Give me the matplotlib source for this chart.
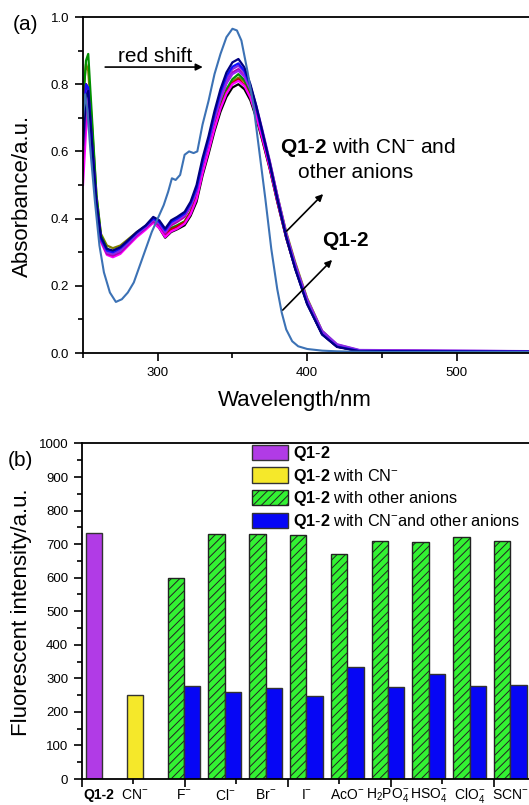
import numpy as np
import matplotlib
matplotlib.use("Agg")
import matplotlib.pyplot as plt
from matplotlib.transforms import blended_transform_factory

plt.rcParams['font.family'] = ['Liberation Sans', 'DejaVu Sans']
plt.rcParams['mathtext.fontset'] = 'custom'
plt.rcParams['mathtext.rm'] = 'Liberation Sans'
plt.rcParams['mathtext.it'] = 'Liberation Sans'
plt.rcParams['mathtext.bf'] = 'Liberation Sans:bold'
plt.rcParams['hatch.linewidth'] = 0.7

# ---------------- Panel (a) data: absorption spectra ----------------
wl_q12 = [250, 251.5, 253, 255, 258, 261, 264, 268, 272, 276, 280, 284, 288, 292, 296,
          300, 304, 307, 309.5, 312, 315, 318, 321, 324, 326.5, 330, 334, 338, 342, 346,
          350, 353, 356, 360, 364, 368, 372, 376, 380, 383, 386, 390, 394, 400, 410, 420,
          430, 450, 500, 550, 600]
abs_q12 = [0.70, 0.77, 0.72, 0.60, 0.45, 0.32, 0.24, 0.18, 0.152, 0.16, 0.18, 0.21, 0.26,
           0.31, 0.36, 0.40, 0.44, 0.48, 0.52, 0.515, 0.53, 0.59, 0.60, 0.595, 0.60, 0.68,
           0.75, 0.83, 0.89, 0.94, 0.965, 0.96, 0.93, 0.84, 0.74, 0.60, 0.46, 0.31, 0.19,
           0.12, 0.07, 0.035, 0.02, 0.012, 0.007, 0.005, 0.004, 0.003, 0.003, 0.003, 0.003]

wl_mix = [250, 252, 253.5, 256, 259, 262, 266, 270, 275, 280, 286, 292, 297, 301, 305, 309,
          313, 318, 322, 326, 330, 334, 338, 342, 346, 350, 354, 358, 362, 366, 370, 375,
          380, 386, 392, 400, 410, 420, 435, 600]
abs_navy = [0.62, 0.76, 0.78, 0.63, 0.45, 0.345, 0.31, 0.305, 0.315, 0.335, 0.36, 0.38, 0.405,
            0.395, 0.37, 0.395, 0.405, 0.42, 0.45, 0.50, 0.58, 0.645, 0.72, 0.785, 0.835,
            0.865, 0.875, 0.85, 0.80, 0.735, 0.66, 0.565, 0.46, 0.345, 0.25, 0.145, 0.055,
            0.018, 0.005, 0.003]
abs_blue = [0.66, 0.80, 0.79, 0.62, 0.445, 0.34, 0.305, 0.30, 0.312, 0.332, 0.358, 0.378, 0.40,
            0.39, 0.365, 0.39, 0.40, 0.415, 0.445, 0.49, 0.57, 0.635, 0.71, 0.775, 0.825,
            0.852, 0.862, 0.84, 0.795, 0.73, 0.655, 0.56, 0.458, 0.345, 0.252, 0.147, 0.056,
            0.019, 0.006, 0.003]
abs_violet = [0.60, 0.74, 0.77, 0.62, 0.445, 0.34, 0.30, 0.295, 0.305, 0.328, 0.355, 0.378,
              0.40, 0.392, 0.365, 0.392, 0.40, 0.415, 0.44, 0.485, 0.565, 0.63, 0.70, 0.765,
              0.815, 0.845, 0.855, 0.835, 0.795, 0.735, 0.665, 0.572, 0.47, 0.355, 0.265,
              0.16, 0.066, 0.026, 0.009, 0.004]
abs_dmag = [0.58, 0.72, 0.76, 0.61, 0.44, 0.335, 0.295, 0.29, 0.30, 0.322, 0.35, 0.372, 0.392,
            0.38, 0.355, 0.38, 0.39, 0.405, 0.435, 0.48, 0.56, 0.625, 0.695, 0.755, 0.805,
            0.835, 0.845, 0.825, 0.785, 0.725, 0.655, 0.565, 0.465, 0.35, 0.258, 0.153, 0.06,
            0.021, 0.007, 0.003]
abs_green = [0.74, 0.87, 0.89, 0.70, 0.47, 0.35, 0.31, 0.30, 0.31, 0.33, 0.355, 0.375, 0.395,
             0.38, 0.355, 0.372, 0.38, 0.392, 0.42, 0.465, 0.545, 0.61, 0.68, 0.74, 0.785,
             0.815, 0.83, 0.812, 0.775, 0.715, 0.648, 0.558, 0.458, 0.347, 0.257, 0.151,
             0.058, 0.02, 0.006, 0.003]
abs_olive = [0.76, 0.86, 0.84, 0.68, 0.47, 0.355, 0.32, 0.312, 0.32, 0.338, 0.36, 0.378, 0.395,
             0.378, 0.352, 0.37, 0.378, 0.39, 0.418, 0.462, 0.54, 0.605, 0.675, 0.735, 0.78,
             0.808, 0.82, 0.808, 0.775, 0.72, 0.655, 0.568, 0.47, 0.36, 0.27, 0.163, 0.066,
             0.024, 0.007, 0.003]
abs_red = [0.68, 0.80, 0.78, 0.62, 0.44, 0.34, 0.30, 0.295, 0.305, 0.325, 0.35, 0.37, 0.39,
           0.375, 0.35, 0.368, 0.376, 0.39, 0.418, 0.462, 0.54, 0.605, 0.672, 0.73, 0.775,
           0.803, 0.815, 0.798, 0.762, 0.705, 0.638, 0.55, 0.452, 0.343, 0.253, 0.149, 0.057,
           0.019, 0.006, 0.003]
abs_magenta = [0.50, 0.66, 0.72, 0.60, 0.435, 0.33, 0.292, 0.285, 0.295, 0.318, 0.345, 0.367,
               0.388, 0.372, 0.345, 0.362, 0.37, 0.385, 0.413, 0.458, 0.535, 0.60, 0.668,
               0.727, 0.772, 0.80, 0.81, 0.795, 0.76, 0.705, 0.64, 0.552, 0.455, 0.345, 0.255,
               0.15, 0.058, 0.02, 0.006, 0.003]
abs_black = [0.66, 0.80, 0.78, 0.62, 0.44, 0.338, 0.302, 0.296, 0.305, 0.325, 0.35, 0.37, 0.39,
             0.372, 0.343, 0.36, 0.368, 0.38, 0.408, 0.45, 0.528, 0.592, 0.66, 0.718, 0.762,
             0.79, 0.80, 0.785, 0.752, 0.698, 0.633, 0.547, 0.45, 0.342, 0.252, 0.148, 0.056,
             0.019, 0.006, 0.003]
abs_purple = [0.64, 0.78, 0.78, 0.62, 0.445, 0.34, 0.30, 0.295, 0.305, 0.326, 0.353, 0.375,
              0.397, 0.386, 0.36, 0.385, 0.395, 0.41, 0.438, 0.482, 0.56, 0.625, 0.695, 0.755,
              0.802, 0.83, 0.84, 0.822, 0.785, 0.728, 0.66, 0.568, 0.468, 0.355, 0.263, 0.158,
              0.064, 0.025, 0.008, 0.004]

mix_curves = [abs_olive, abs_green, abs_black, abs_red, abs_magenta, abs_dmag,
              abs_purple, abs_violet, abs_blue, abs_navy]
mix_colors = ['#808000', '#009000', '#000000', '#c00000', '#ff00ff', '#b000b0',
              '#a020f0', '#8a2be2', '#1010ff', '#000080']

# ---------------- Panel (b) data: fluorescence ----------------
cat_labels = ['Q1-2', 'CN$^{-}$', 'F$^{-}$', 'Cl$^{-}$', 'Br$^{-}$', 'I$^{-}$', 'AcO$^{-}$',
              'H$_2$PO$_4^{-}$', 'HSO$_4^{-}$', 'ClO$_4^{-}$', 'SCN$^{-}$']
val_q12 = [733]
val_cn = [251]
val_other = [598, 730, 730, 727, 670, 710, 706, 721, 709]
val_cn_other = [276, 260, 271, 246, 335, 275, 313, 276, 281]

W, H = 529, 805
fig = plt.figure(figsize=(W / 100, H / 100), dpi=100)

def fx(px):
    return px / W

def fy(py):
    return 1 - py / H

# ---------------- Panel (a) ----------------
ax1 = fig.add_axes([fx(83), fy(353), fx(606) - fx(83), fy(17) - fy(353)])
for c, col in zip(mix_curves, mix_colors):
    ax1.plot(wl_mix, c, color=col, lw=1.6)
ax1.plot(wl_q12, abs_q12, color='#3c72b5', lw=1.5)
ax1.set_xlim(250, 600)
ax1.set_ylim(0, 1.0)
ax1.set_xticks([300, 400, 500])
ax1.set_xticks([250, 350, 450, 550], minor=True)
ax1.set_yticks(np.arange(0, 1.01, 0.2))
ax1.set_yticks(np.arange(0.1, 1.0, 0.2), minor=True)
ax1.yaxis.set_major_formatter(matplotlib.ticker.FormatStrFormatter('%.1f'))
ax1.tick_params(which='major', direction='out', length=6, width=1.2, labelsize=9.5, pad=4)
ax1.tick_params(which='minor', direction='out', length=3.5, width=1.2)
for s in ax1.spines.values():
    s.set_linewidth(1.3)

ax1.annotate('', xy=(332, 0.851), xytext=(263, 0.851),
             arrowprops=dict(arrowstyle='-|>', color='k', lw=1.2, mutation_scale=10))
ax1.text(273.5, 0.883, 'red shift', fontsize=15, va='center', ha='left')
ax1.annotate('', xy=(412, 0.479), xytext=(385, 0.357),
             arrowprops=dict(arrowstyle='-|>', color='k', lw=1.2, mutation_scale=10))
ax1.annotate('', xy=(418, 0.283), xytext=(382.4, 0.122),
             arrowprops=dict(arrowstyle='-|>', color='k', lw=1.2, mutation_scale=10))
ax1.text(381.8, 0.613, r'$\mathbf{Q1}$-$\mathbf{2}$ with CN$^{-}$ and', fontsize=15,
         va='center', ha='left')
ax1.text(393.8, 0.536, 'other anions', fontsize=15, va='center', ha='left')
ax1.text(409.9, 0.336, 'Q1-2', fontsize=15, fontweight='bold', va='center', ha='left')

fig.text(fx(26), fy(25), '(a)', fontsize=15, ha='center', va='center')
fig.text(fx(22), fy(196), 'Absorbance/a.u.', fontsize=16, rotation=90, ha='center', va='center')
fig.text(fx(295), fy(400), 'Wavelength/nm', fontsize=16, ha='center', va='center')

# ---------------- Panel (b) ----------------
gx0, gdx = 102.4, 40.8          # pixel centre of group 0 and group spacing
xl, xr = -0.5, 11.5
ax2 = fig.add_axes([fx(82), fy(779), fx(82 + (xr - xl) * gdx) - fx(82), fy(443.5) - fy(779)])
bw = 0.4
edge = '#333333'
idx_other = np.arange(2, 2 + len(val_other))
b1 = ax2.bar([0 - bw / 2], val_q12, width=bw, color='#b13be6', edgecolor=edge, lw=1)
b2 = ax2.bar([1 - bw / 2], val_cn, width=bw, color='#f5e82a', edgecolor=edge, lw=1)
b3 = ax2.bar(idx_other - bw / 2, val_other, width=bw, color='#33f233', edgecolor='#222222',
             lw=1, hatch='////')
b4 = ax2.bar(idx_other + bw / 2, val_cn_other, width=bw, color='#0606f5', edgecolor=edge, lw=1)
ax2.set_xlim(xl, xr)
ax2.set_ylim(0, 1000)
ax2.set_yticks(np.arange(0, 1001, 100))
ax2.set_yticks(np.arange(50, 1000, 100), minor=True)
step = 1.262
ax2.set_xticks([-0.5 + 2 * step * k for k in range(5)])
ax2.set_xticks([-0.5 + step + 2 * step * k for k in range(5)], minor=True)
ax2.set_xticklabels([])
ax2.tick_params(which='major', direction='out', length=6, width=1.2, labelsize=9.5, pad=4)
ax2.tick_params(which='minor', direction='out', length=3.5, width=1.2)
for s in ax2.spines.values():
    s.set_linewidth(1.3)

trans = blended_transform_factory(ax2.transData, ax2.transAxes)
label_x = [0 - bw / 2, 1 - bw / 2] + list(idx_other)
for i, (lx, lab) in enumerate(zip(label_x, cat_labels)):
    if i == 0:
        ax2.text(lx + 0.1, -16 / 335, lab, transform=trans, ha='center', va='center',
                 fontsize=10, fontweight='bold')
    else:
        ax2.text(lx, -16 / 335, lab, transform=trans, ha='center', va='center', fontsize=10)

handles = [b1, b2, b3, b4]
labels = [r'$\mathbf{Q1}$-$\mathbf{2}$', r'$\mathbf{Q1}$-$\mathbf{2}$ with CN$^{-}$',
          r'$\mathbf{Q1}$-$\mathbf{2}$ with other anions',
          r'$\mathbf{Q1}$-$\mathbf{2}$ with CN$^{-}$and other anions']
ax2.legend(handles, labels, loc='upper left', bbox_to_anchor=(fx(252), fy(444)),
           bbox_transform=fig.transFigure, frameon=False, fontsize=11.7, borderpad=0,
           borderaxespad=0, handlelength=2.2, handleheight=1.05, labelspacing=0.22,
           handletextpad=0.32)

fig.text(fx(20), fy(460), '(b)', fontsize=15, ha='center', va='center')
fig.text(fx(22), fy(612), 'Fluorescent intensity/a.u.', fontsize=16, rotation=90,
         ha='center', va='center')

fig.savefig('out.png', dpi=100)
